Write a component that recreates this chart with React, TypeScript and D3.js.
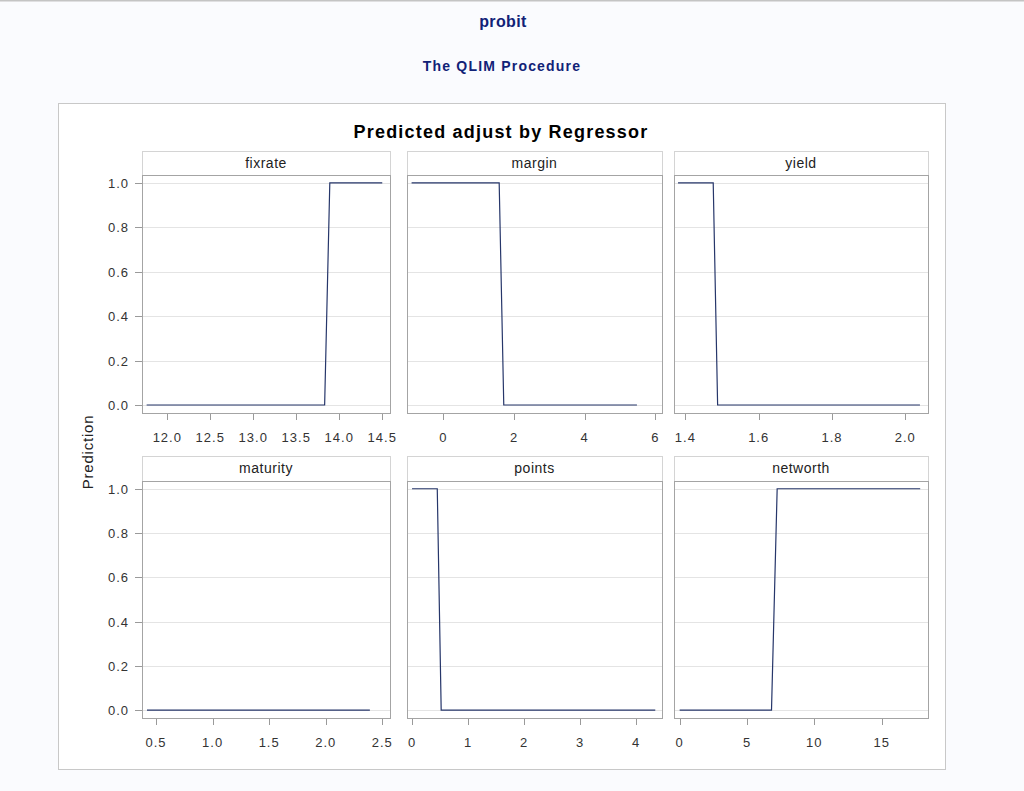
import React from 'react';
import * as d3 from 'd3';

// ---- Data ----
const pageTitle = 'probit';
const procTitle = 'The QLIM Procedure';
const chartTitle = 'Predicted adjust by Regressor';
const yAxisLabel = 'Prediction';

const panelNames = ['fixrate', 'margin', 'yield', 'maturity', 'points', 'networth'];

const fixrateX = [11.76, 13.83, 13.89, 14.5];
const fixrateY = [0, 0, 1, 1];
const marginX = [-0.9, 1.58, 1.71, 5.48];
const marginY = [1, 1, 0, 0];
const yieldX = [1.38, 1.476, 1.488, 2.04];
const yieldY = [1, 1, 0, 0];
const maturityX = [0.42, 2.39];
const maturityY = [0, 0];
const pointsX = [0, 0.45, 0.52, 4.34];
const pointsY = [1, 1, 0, 0];
const networthX = [0, 6.82, 7.24, 17.86];
const networthY = [0, 0, 1, 1];

const fixrateTicks = [12.0, 12.5, 13.0, 13.5, 14.0, 14.5];
const marginTicks = [0, 2, 4, 6];
const yieldTicks = [1.4, 1.6, 1.8, 2.0];
const maturityTicks = [0.5, 1.0, 1.5, 2.0, 2.5];
const pointsTicks = [0, 1, 2, 3, 4];
const networthTicks = [0, 5, 10, 15];

const fixrateDomain = [11.706, 14.59];
const marginDomain = [-1.03, 6.19];
const yieldDomain = [1.369, 2.062];
const maturityDomain = [0.376, 2.568];
const pointsDomain = [-0.09, 4.46];
const networthDomain = [-0.42, 18.44];

const yTicks = [0, 0.2, 0.4, 0.6, 0.8, 1.0];
const yDomain = [-0.036, 1.035];

const panelXs = [fixrateX, marginX, yieldX, maturityX, pointsX, networthX];
const panelYs = [fixrateY, marginY, yieldY, maturityY, pointsY, networthY];
const panelTicks = [fixrateTicks, marginTicks, yieldTicks, maturityTicks, pointsTicks, networthTicks];
const panelDomains = [fixrateDomain, marginDomain, yieldDomain, maturityDomain, pointsDomain, networthDomain];
const tickFormats = ['.1f', 'd', '.1f', '.1f', 'd', 'd'];

export default function App() {
  const W = 1024, H = 791;
  const font = '"Liberation Sans", Arial, sans-serif';
  const cols = [[142, 390], [407, 662], [674, 928]];
  const rows = [
    { hTop: 151, pTop: 175, pBot: 413 },
    { hTop: 456, pTop: 481, pBot: 718 },
  ];
  const lineColor = '#26366a';
  const titleColor = '#112277';

  return (
    <svg width={W} height={H} style={{ position: 'absolute', left: 0, top: 0, display: 'block' }} fontFamily={font}>
      <rect x={0} y={0} width={W} height={H} fill="#fafbfe" />
      <rect x={0} y={0} width={W} height={1.5} fill="#c4c4c4" />
      <text x={503} y={27} textAnchor="middle" fontSize={16} fontWeight="bold" fill={titleColor} letterSpacing={0.4}>{pageTitle}</text>
      <text x={502} y={71} textAnchor="middle" fontSize={14} fontWeight="bold" fill={titleColor} letterSpacing={1.2}>{procTitle}</text>
      <rect x={58.5} y={103.5} width={887} height={666} fill="#ffffff" stroke="#c8c8c8" strokeWidth={1} />
      <text x={501} y={138} textAnchor="middle" fontSize={18} fontWeight="bold" fill="#000" letterSpacing={1.2}>{chartTitle}</text>
      <text transform="translate(93,452) rotate(-90)" textAnchor="middle" fontSize={15} fill="#222" letterSpacing={0.8}>{yAxisLabel}</text>
      {panelNames.map((name, i) => {
        const r = rows[Math.floor(i / 3)];
        const c = cols[i % 3];
        const x = d3.scaleLinear().domain(panelDomains[i]).range(c);
        const y = d3.scaleLinear().domain(yDomain).range([r.pBot, r.pTop]);
        const line = d3.line<number>().x((d, k) => x(panelXs[i][k])).y(d => y(d));
        const fmt = d3.format(tickFormats[i]);
        const showY = i % 3 === 0;
        return (
          <g key={name}>
            <rect x={c[0] + 0.5} y={r.hTop + 0.5} width={c[1] - c[0]} height={r.pTop - r.hTop} fill="#fff" stroke="#d4d4d4" />
            <text x={(c[0] + c[1]) / 2} y={r.hTop + 17} textAnchor="middle" fontSize={14} fill="#222" letterSpacing={0.5}>{name}</text>
            {yTicks.map(t => (
              <line key={'g' + t} x1={c[0] + 1} x2={c[1]} y1={Math.round(y(t)) + 0.5} y2={Math.round(y(t)) + 0.5} stroke="#e4e4e4" strokeWidth={1} />
            ))}
            <path d={line(panelYs[i]) || ''} fill="none" stroke={lineColor} strokeWidth={1.2} />
            <rect x={c[0] + 0.5} y={r.pTop + 0.5} width={c[1] - c[0]} height={r.pBot - r.pTop} fill="none" stroke="#a4a4a4" strokeWidth={1} />
            {panelTicks[i].map(t => (
              <g key={'x' + t}>
                <line x1={Math.round(x(t)) + 0.5} x2={Math.round(x(t)) + 0.5} y1={r.pBot + 1} y2={r.pBot + 7} stroke="#9a9a9a" />
                <text x={x(t)} y={r.pBot + 29} textAnchor="middle" fontSize={13} fill="#333" letterSpacing={1}>{fmt(t)}</text>
              </g>
            ))}
            {showY && yTicks.map(t => (
              <g key={'y' + t}>
                <line x1={c[0] - 7} x2={c[0]} y1={Math.round(y(t)) + 0.5} y2={Math.round(y(t)) + 0.5} stroke="#9a9a9a" />
                <text x={c[0] - 13} y={y(t) + 5} textAnchor="end" fontSize={13} fill="#333" letterSpacing={1}>{d3.format('.1f')(t)}</text>
              </g>
            ))}
          </g>
        );
      })}
    </svg>
  );
}
